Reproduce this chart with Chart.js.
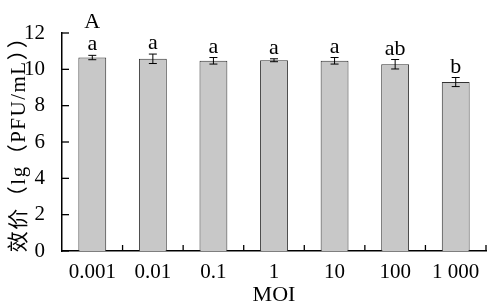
<!DOCTYPE html>
<html>
<head>
<meta charset="utf-8">
<script src="https://cdn.jsdelivr.net/npm/chart.js@4/dist/chart.umd.min.js"></script>
<style>
html,body{margin:0;padding:0;background:#fff;}
#wrap{width:490px;height:308px;}
</style>
</head>
<body>
<div id="wrap"><canvas id="c" width="490" height="308"></canvas></div>
<script>
// ---- data ----
const categories = ['0.001', '0.01', '0.1', '1', '10', '100', '1 000'];
const titers = [10.65, 10.58, 10.47, 10.5, 10.47, 10.28, 9.3];
const errors = [0.12, 0.26, 0.18, 0.08, 0.18, 0.26, 0.25];
const letters = ['a', 'a', 'a', 'a', 'a', 'ab', 'b'];
const yTicks = [0, 2, 4, 6, 8, 10, 12];
const panelLabel = 'A';
const xTitle = 'MOI';
const yTitle = '效价（lg（PFU/mL））';

const FONT = '"Liberation Serif", "Times New Roman", "Noto Sans CJK SC", serif';

const overlay = {
  id: 'overlay',
  afterDatasetsDraw(chart) {
    const ctx = chart.ctx;
    const xs = chart.scales.x, ys = chart.scales.y;
    const area = chart.chartArea;
    ctx.save();
    // inward ticks on y axis
    ctx.strokeStyle = '#000';
    ctx.lineWidth = 1.3;
    yTicks.forEach(v => {
      const y = ys.getPixelForValue(v);
      ctx.beginPath();
      ctx.moveTo(area.left, y);
      ctx.lineTo(area.left + 7, y);
      ctx.stroke();
    });
    // inward ticks on x axis at category boundaries
    for (let i = 1; i <= categories.length; i++) {
      const x = xs.getPixelForValue(i - 0.5);
      ctx.beginPath();
      ctx.moveTo(x, area.bottom);
      ctx.lineTo(x, area.bottom - 6);
      ctx.stroke();
    }
    // error bars and letters
    ctx.lineWidth = 1;
    ctx.fillStyle = '#000';
    ctx.font = '22px ' + FONT;
    ctx.textAlign = 'center';
    ctx.textBaseline = 'alphabetic';
    titers.forEach((v, i) => {
      const x = xs.getPixelForValue(i);
      const yt = ys.getPixelForValue(v + errors[i]);
      const yb = ys.getPixelForValue(v - errors[i]);
      ctx.beginPath();
      ctx.moveTo(x, yt); ctx.lineTo(x, yb);
      ctx.moveTo(x - 4, yt); ctx.lineTo(x + 4, yt);
      ctx.moveTo(x - 4, yb); ctx.lineTo(x + 4, yb);
      ctx.stroke();
      ctx.fillText(letters[i], x, yt - 5);
    });
    // panel label
    ctx.fillText(panelLabel, xs.getPixelForValue(0), area.top - 5);
    // y axis title (spaced like the reference)
    ctx.translate(19, (area.top + area.bottom) / 2 - 3);
    ctx.rotate(-Math.PI / 2);
    ctx.font = '21px ' + FONT;
    if ('letterSpacing' in ctx) ctx.letterSpacing = '1.5px';
    ctx.textBaseline = 'middle';
    ctx.fillText(yTitle, 0, 0);
    ctx.restore();
  }
};

new Chart(document.getElementById('c'), {
  type: 'bar',
  data: {
    labels: categories,
    datasets: [{
      data: titers,
      backgroundColor: '#c8c8c8',
      borderColor: '#333',
      borderWidth: 1,
      categoryPercentage: 1,
      barPercentage: 0.46
    }]
  },
  options: {
    responsive: false,
    animation: false,
    devicePixelRatio: 1,
    layout: { padding: { top: 33, right: 4, left: 0, bottom: 0 } },
    plugins: { legend: { display: false }, tooltip: { enabled: false } },
    scales: {
      x: {
        grid: { display: false },
        border: { display: true, color: '#000', width: 1.5 },
        ticks: { color: '#000', font: { family: FONT, size: 21 }, padding: 1, maxRotation: 0 },
        title: { display: true, text: xTitle, color: '#000', font: { family: FONT, size: 22 }, padding: { top: 0, bottom: 0 } },
        afterFit: s => { s.height = 57; }
      },
      y: {
        min: 0, max: 12,
        afterBuildTicks: s => { s.ticks = yTicks.map(v => ({ value: v })); },
        grid: { display: false },
        border: { display: true, color: '#000', width: 1.5 },
        ticks: { color: '#000', font: { family: FONT, size: 21 }, padding: 9 },
        title: { display: false },
        afterFit: s => { s.width = 62; }
      }
    }
  },
  plugins: [overlay]
});
</script>
</body>
</html>
